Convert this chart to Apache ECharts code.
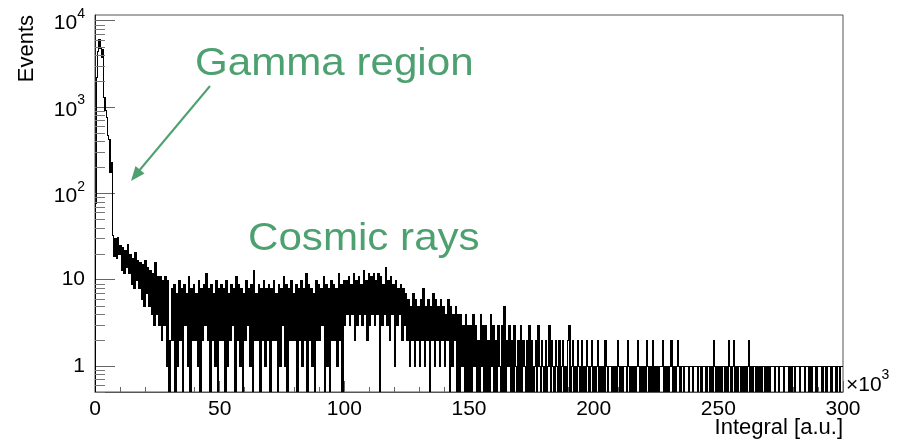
<!DOCTYPE html>
<html>
<head>
<meta charset="utf-8">
<script src="https://cdn.jsdelivr.net/npm/echarts@6/dist/echarts.min.js"></script>
<style>
html, body { margin: 0; padding: 0; background: #fff; }
#chart { width: 911px; height: 443px; }
</style>
</head>
<body>
<div id="chart"></div>
<script>
var FONT = '"Liberation Sans", Arial, Helvetica, sans-serif';
var GREEN = '#4da06f';

// histogram: 600 bins of 500 a.u. from 0 to 300k
var binWidth = 500;

// 0 - 7k, gamma peak
var peakCounts = [78, 2200, 4500, 6100, 4800, 3800, 4700, 1300, 930, 770, 470, 420, 175, 230];

// 7k - 30k, falling edge of the cosmic spectrum
var fallCounts = [
    33, 19, 30, 18, 31, 20,
    25, 13, 24, 12, 22, 14, 26, 12,
    20, 9, 18, 8, 21, 10, 17, 8,
    16, 6, 15, 5, 17, 7, 14, 5,
    13, 4, 12, 3, 16, 4, 11, 3,
    11, 2, 10, 3, 11, 1, 10, 0
];

// 30k - 100k, flat part
var flatCounts = [
    2, 8, 2, 9, 0, 7, 1, 10, 2, 8, 0, 9, 3, 7, 1, 11, 0, 8, 2, 9,
    2, 7, 1, 10, 0, 8, 2, 9, 3, 12, 2, 8, 0, 9, 2, 7, 1, 10, 0, 8,
    2, 9, 2, 8, 0, 10, 1, 7, 2, 9, 3, 8, 0, 11, 2, 9, 1, 8, 0, 7,
    2, 10, 3, 8, 1, 9, 0, 13, 2, 7, 2, 9, 0, 8, 2, 10, 1, 8, 2, 9,
    0, 8, 2, 10, 2, 7, 0, 9, 1, 8, 3, 11, 1, 9, 0, 8, 2, 10, 2, 7,
    2, 9, 0, 8, 2, 10, 1, 8, 2, 12, 0, 9, 2, 8, 1, 7, 0, 10, 2, 9,
    2, 8, 3, 11, 0, 9, 1, 8, 0, 10, 2, 9, 2, 8, 1, 12, 2, 9, 0, 10
];

// 100k - 125k, small bump
var bumpCounts = [
    3, 10, 4, 11, 3, 9, 4, 12, 2, 10, 3, 11, 4, 9, 3, 13, 4, 10, 2, 12, 3, 11, 4, 12, 3,
    10, 4, 12, 0, 11, 3, 9, 4, 14, 3, 10, 2, 11, 4, 9, 1, 10, 3, 8, 4, 9, 2, 8, 3, 7
];

// 125k - 150k
var dropCounts = [
    2, 6, 1, 5, 2, 7, 1, 6, 2, 5, 1, 6, 2, 8, 1, 5, 2, 6, 0, 5, 2, 7, 1, 6, 2,
    5, 1, 6, 2, 5, 1, 4, 2, 6, 0, 5, 1, 4, 2, 5, 0, 4, 0, 4, 1, 3, 0, 4, 0, 3
];

// 150k - 175k
var lowCounts = [
    0, 3, 0, 4, 1, 3, 0, 2, 0, 4, 1, 3, 0, 3, 0, 2, 0, 4, 1, 3, 0, 2, 0, 3, 1,
    0, 3, 0, 5, 0, 2, 1, 3, 0, 2, 0, 3, 1, 0, 2, 0, 3, 0, 2, 1, 0, 2, 0, 3, 0
];

// 175k - 205k
var tailCounts = [
    2, 0, 1, 2, 0, 3, 1, 0, 2, 1, 0, 2, 0, 1, 3, 0, 2, 1, 0, 2,
    1, 0, 2, 0, 1, 2, 0, 1, 0, 2, 3, 0, 1, 2, 0, 1, 0, 2, 1, 0,
    2, 0, 1, 0, 2, 1, 0, 1, 2, 0, 1, 0, 1, 2, 0, 1, 0, 1, 0, 2
];

// 205k - 300k
var farCounts = [
    1, 0, 1, 1, 0, 1, 0, 1, 0, 2,
    1, 0, 1, 0, 1, 1, 0, 2, 1, 0,
    1, 0, 1, 0, 1, 2, 1, 0, 1, 0,
    1, 0, 2, 1, 0, 1, 0, 2, 0, 1,
    0, 1, 0, 1, 1, 2, 0, 1, 0, 1,
    0, 1, 2, 0, 1, 0, 1, 2, 1, 0,
    1, 1, 0, 1, 1, 1, 0, 1, 1, 0,
    1, 1, 1, 0, 1, 1, 0, 1, 1, 1,
    0, 1, 1, 0, 1, 0, 2, 1, 0, 1,
    0, 1, 0, 1, 1, 0, 1, 0, 2, 1,
    0, 1, 2, 0, 1, 0, 1, 1, 0, 1,
    0, 1, 0, 1, 2, 0, 1, 0, 1, 1,
    0, 1, 0, 1, 0, 1, 1, 0, 1, 0,
    1, 0, 1, 1, 1, 0, 1, 1, 0, 1,
    1, 1, 0, 1, 1, 1, 0, 1, 0, 1,
    1, 0, 1, 1, 1, 0, 1, 1, 1, 0,
    1, 1, 0, 1, 0, 1, 1, 1, 0, 1,
    1, 1, 1, 0, 1, 1, 0, 1, 1, 1,
    0, 1, 1, 1, 0, 1, 1, 0, 1, 1
];

var xTickLabels = ['0', '50', '100', '150', '200', '250', '300'];
// index = power of ten
var yTickLabels = ['1', '10', '{b|10}{s|2}', '{b|10}{s|3}', '{b|10}{s|4}'];
var yMinorTicks = [
    0.5, 0.6, 0.7, 0.8, 0.9,
    2, 3, 4, 5, 6, 7, 8, 9,
    20, 30, 40, 50, 60, 70, 80, 90,
    200, 300, 400, 500, 600, 700, 800, 900,
    2000, 3000, 4000, 5000, 6000, 7000, 8000, 9000
];

var counts = [].concat(peakCounts, fallCounts, flatCounts, bumpCounts,
    dropCounts, lowCounts, tailCounts, farCounts);

// empty bins go below the frame (log axis), like ROOT draws them
var LOG_FLOOR = 0.1;
function shown(c) { return c > 0 ? c : LOG_FLOOR; }

// one item per bin: [low edge, this bin, next bin]
var histData = counts.map(function (c, i) {
    var next = i + 1 < counts.length ? counts[i + 1] : c;
    return [i * binWidth, shown(c), shown(next)];
});

var chart = echarts.init(document.getElementById('chart'), null, { renderer: 'canvas' });

var supRich = {
    b: { fontSize: 21, fontFamily: FONT, color: '#000', padding: [6, 0, 0, 0] },
    s: { fontSize: 14, fontFamily: FONT, color: '#000', verticalAlign: 'top' }
};

// bins are ~1.25px wide: snap each step edge to whole pixel columns so that
// the dense part renders solid, like ROOT does
function histItem(params, api) {
    var x0 = api.value(0);
    var x1 = x0 + binWidth;
    var a = api.coord([x0, api.value(1)]);
    var b = api.coord([x1, api.value(1)]);
    var c = api.coord([x1, api.value(2)]);
    var nx = api.coord([x1 + binWidth, api.value(2)])[0];
    var colA = Math.floor(a[0]);
    var colB = Math.floor(b[0]);
    var colN = Math.max(colB + 1, Math.floor(nx));
    var yh = Math.round(a[1]) + 0.5;
    var yTop = Math.round(Math.min(b[1], c[1]));
    var yBot = Math.round(Math.max(b[1], c[1]));
    var children = [
        {
            type: 'line',
            shape: { x1: colA, y1: yh, x2: colB + 1, y2: yh },
            style: { stroke: '#000', lineWidth: 1 }
        },
        {
            type: 'rect',
            shape: { x: colB, y: yTop, width: colN - colB, height: yBot - yTop + 1 },
            style: { fill: '#000' }
        }
    ];
    if (params.dataIndex === 0) {
        var f = api.coord([x0, LOG_FLOOR]);
        var yb = Math.round(a[1]);
        children.push({
            type: 'rect',
            shape: { x: colA, y: yb, width: 1, height: Math.round(f[1]) - yb },
            style: { fill: '#000' }
        });
    }
    return { type: 'group', children: children };
}

chart.setOption({
    animation: false,
    backgroundColor: '#fff',
    grid: {
        left: 95, right: 68, top: 15, bottom: 51,
        show: true, borderColor: '#555', borderWidth: 1, backgroundColor: 'transparent'
    },
    xAxis: {
        type: 'value',
        min: 0,
        max: 300000,
        interval: 50000,
        axisLine: { lineStyle: { color: '#555', width: 1 } },
        axisTick: { inside: true, length: 11, lineStyle: { color: '#666' } },
        minorTick: { show: true, splitNumber: 5, length: 5, lineStyle: { color: '#666' } },
        splitLine: { show: false },
        axisLabel: {
            fontSize: 21, fontFamily: FONT, color: '#000', margin: 7,
            formatter: function (v) { return xTickLabels[Math.round(v / 50000)]; }
        }
    },
    yAxis: {
        type: 'log',
        logBase: 10,
        min: 0.5,
        max: 11600,
        axisLine: { show: true, lineStyle: { color: '#222', width: 1 } },
        axisTick: { inside: true, length: 20, lineStyle: { color: '#666' } },
        splitLine: { show: false },
        axisLabel: {
            fontSize: 21, fontFamily: FONT, color: '#000', margin: 10,
            showMinLabel: false, showMaxLabel: false,
            rich: supRich,
            formatter: function (v) {
                var l = Math.log10(v);
                var e = Math.round(l);
                if (Math.abs(l - e) > 1e-6) return '';
                return yTickLabels[e] || '';
            }
        }
    },
    series: [
        {
            // histogram outline drawn bin by bin (top edge + step to next bin)
            type: 'custom',
            silent: true,
            clip: true,
            data: histData,
            renderItem: histItem
        },
        {
            // minor ticks on the log axis
            type: 'custom',
            silent: true,
            clip: false,
            data: yMinorTicks.map(function (v) { return [0, v]; }),
            renderItem: function (params, api) {
                var p = api.coord([0, api.value(1)]);
                var y = Math.round(p[1]) + 0.5;
                return {
                    type: 'line',
                    shape: { x1: p[0], y1: y, x2: p[0] + 10, y2: y },
                    style: { stroke: '#777', lineWidth: 1 }
                };
            }
        }
    ],
    graphic: [
        {
            type: 'text', x: 27, y: 15, rotation: Math.PI / 2,
            style: { text: 'Events', fontSize: 22, fontFamily: FONT, fill: '#000', align: 'right', verticalAlign: 'middle' }
        },
        {
            type: 'text', x: 843, y: 428,
            style: { text: 'Integral [a.u.]', fontSize: 22, fontFamily: FONT, fill: '#000', align: 'right', verticalAlign: 'middle' }
        },
        {
            type: 'text', x: 846, y: 382,
            style: {
                text: '{b|\u00d710}{s|3}', verticalAlign: 'middle',
                rich: supRich
            }
        },
        {
            type: 'text', x: 195, y: 64, scaleX: 1.08,
            style: { text: 'Gamma region', fontSize: 39, fontFamily: FONT, fill: GREEN, verticalAlign: 'middle' }
        },
        {
            type: 'text', x: 248, y: 239, scaleX: 1.08,
            style: { text: 'Cosmic rays', fontSize: 39, fontFamily: FONT, fill: GREEN, verticalAlign: 'middle' }
        },
        {
            type: 'line',
            shape: { x1: 210, y1: 86, x2: 138, y2: 172 },
            style: { stroke: GREEN, lineWidth: 2 }
        },
        {
            type: 'polygon',
            shape: { points: [[131, 181], [144.5, 173.5], [135.5, 166]] },
            style: { fill: GREEN }
        }
    ]
});
</script>
</body>
</html>
